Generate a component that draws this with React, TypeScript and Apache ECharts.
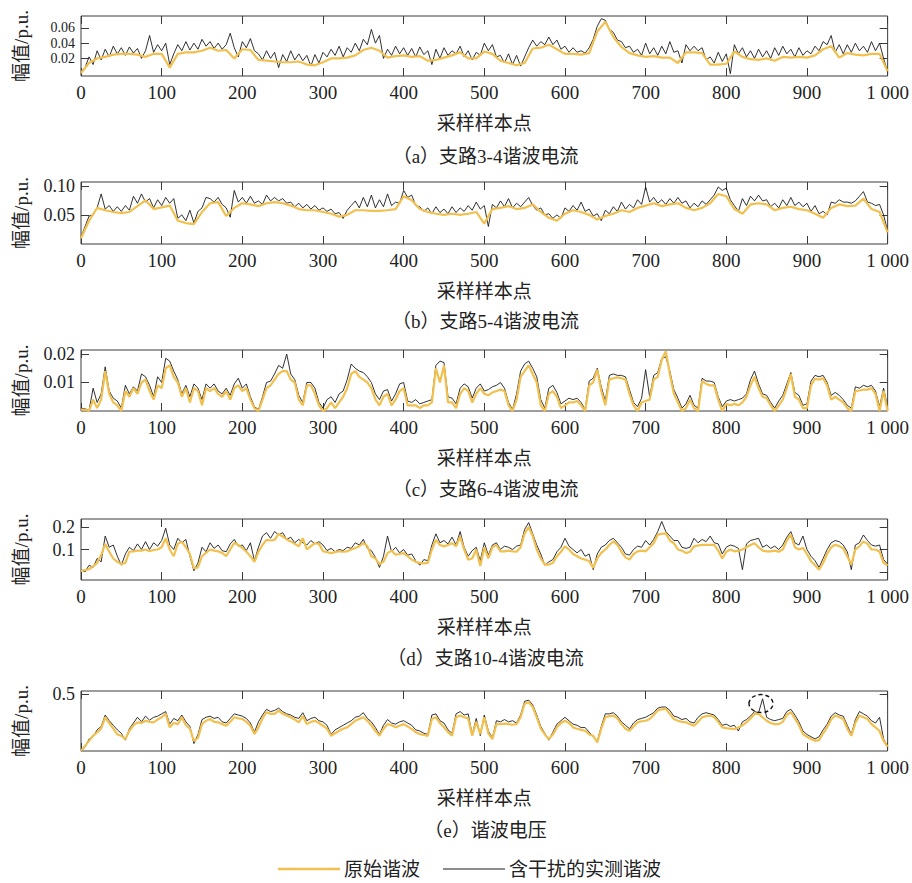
import React, { useEffect, useRef } from "react";
import * as echarts from "echarts";

// ---- data (sample index 0..1000) ----
// Panel (a) branch 3-4 current, units of 1e-3 p.u.
const origA = [
  1, 14, 20, 22, 25, 26, 26, 25, 22, 26,
  26, 8, 26, 28, 28, 30, 34, 30, 31, 20,
  32, 31, 18, 17, 16, 15, 15, 16, 12, 11,
  15, 20, 20, 21, 24, 31, 34, 30, 21, 23,
  24, 22, 23, 17, 18, 21, 24, 28, 20, 20,
  29, 26, 17, 14, 11, 14, 33, 34, 38, 32,
  26, 26, 25, 27, 55, 68, 48, 35, 27, 24,
  22, 23, 21, 21, 14, 28, 28, 27, 12, 12,
  13, 29, 22, 19, 18, 20, 17, 22, 21, 22,
  21, 24, 32, 36, 21, 27, 25, 24, 26, 26,
  3,
];
const measA = [
  2, 8, 22, 12, 30, 18, 32, 22, 36, 26, 34, 24, 35, 27, 33, 20, 30, 50, 28, 38,
  30, 40, 12, 26, 38, 30, 42, 31, 40, 32, 45, 36, 42, 33, 40, 32, 38, 53, 34, 22,
  42, 34, 46, 30, 26, 18, 30, 20, 28, 8, 25, 16, 30, 18, 26, 17, 24, 10, 25, 14,
  28, 22, 32, 24, 36, 22, 34, 28, 40, 30, 45, 38, 58, 40, 50, 20, 32, 24, 36, 26,
  34, 24, 33, 22, 35, 25, 30, 12, 32, 20, 34, 24, 30, 26, 36, 22, 30, 18, 28, 24,
  40, 30, 38, 22, 24, 14, 26, 12, 24, 10, 22, 34, 44, 36, 42, 38, 48, 38, 44, 32,
  36, 28, 34, 28, 30, 27, 34, 45, 62, 72, 70, 58, 54, 44, 42, 34, 36, 28, 32, 24,
  40, 26, 34, 24, 36, 26, 42, 28, 30, 14, 38, 30, 36, 30, 34, 18, 22, 14, 28, 16,
  26, 0, 38, 26, 34, 22, 30, 20, 32, 22, 30, 20, 34, 24, 36, 26, 32, 22, 34, 24,
  30, 26, 36, 30, 42, 38, 50, 28, 38, 26, 38, 28, 40, 30, 36, 28, 42, 30, 40, 20,
  2,
];

// Panel (b) branch 5-4 current, units of 1e-3 p.u.
const origB = [
  10, 40, 62, 58, 55, 53, 55, 65, 75, 60,
  63, 66, 40, 36, 34, 55, 70, 72, 48, 62,
  70, 68, 65, 70, 72, 70, 66, 60, 58, 58,
  55, 52, 47, 50, 58, 58, 57, 57, 58, 60,
  82, 75, 60, 55, 52, 50, 52, 50, 52, 55,
  35, 60, 62, 65, 60, 62, 68, 55, 45, 40,
  52, 58, 55, 50, 42, 48, 52, 58, 55, 62,
  66, 70, 65, 68, 70, 62, 58, 62, 70, 86,
  82, 60, 52, 68, 70, 68, 58, 62, 64, 60,
  58, 52, 45, 62, 68, 65, 66, 78, 60, 55,
  20,
];
const measB = [
  12, 30, 48, 50, 62, 86, 60, 66, 56, 64, 56, 66, 58, 82, 70, 86, 72, 78, 62, 76,
  66, 80, 70, 78, 44, 50, 40, 58, 36, 56, 62, 80, 78, 72, 80, 68, 62, 46, 92, 72,
  80, 70, 82, 70, 74, 68, 84, 74, 80, 74, 78, 70, 72, 64, 70, 62, 68, 60, 66, 58,
  62, 56, 60, 52, 54, 44, 58, 66, 74, 62, 80, 64, 84, 62, 76, 64, 86, 66, 72, 70,
  92, 80, 84, 66, 64, 56, 62, 52, 64, 54, 60, 52, 64, 54, 62, 56, 66, 58, 72, 60,
  66, 30, 68, 62, 74, 64, 78, 62, 70, 64, 72, 80, 66, 58, 62, 50, 52, 44, 50, 44,
  62, 56, 66, 58, 72, 56, 60, 48, 52, 40, 58, 52, 64, 56, 72, 60, 68, 62, 76, 68,
  98, 72, 80, 70, 76, 68, 78, 70, 80, 70, 74, 62, 70, 64, 74, 68, 76, 84, 98, 92,
  96, 76, 66, 56, 78, 66, 82, 74, 84, 74, 76, 64, 70, 62, 76, 66, 80, 66, 72, 64,
  70, 56, 66, 52, 56, 50, 72, 70, 76, 72, 72, 70, 74, 82, 90, 72, 70, 66, 68, 50,
  22,
];

// Panel (c) branch 6-4 current, units of 1e-4 p.u.
const origC = [
  5, 5, 0, 40, 10, 40, 140, 60, 30, 20, 0, 70, 50, 80, 60, 100, 110, 70, 40, 90,
  80, 150, 160, 120, 100, 50, 80, 30, 80, 70, 20, 80, 70, 80, 60, 50, 70, 40, 80, 90,
  70, 80, 40, 10, 0, 40, 80, 90, 110, 130, 140, 140, 110, 100, 40, 20, 90, 90, 60, 20,
  0, 10, 30, 10, 30, 50, 80, 130, 140, 120, 110, 100, 80, 40, 20, 50, 60, 20, 40, 70,
  80, 20, 20, 20, 10, 20, 20, 30, 150, 100, 160, 30, 30, 10, 60, 80, 70, 30, 60, 80,
  60, 55, 65, 70, 75, 70, 20, 0, 40, 120, 140, 160, 130, 100, 20, 0, 60, 70, 50, 10,
  20, 30, 30, 35, 20, 0, 90, 100, 145, 70, 20, 110, 115, 118, 115, 110, 60, 20, 0, 30,
  35, 40, 110, 120, 180, 210, 130, 60, 30, 0, 10, 40, 10, 0, 105, 95, 90, 90, 40, 0,
  25, 20, 25, 20, 30, 50, 90, 120, 80, 50, 45, 20, 0, 20, 40, 80, 130, 50, 40, 10,
  10, 90, 113, 110, 115, 90, 40, 50, 40, 30, 10, 0, 70, 72, 75, 75, 80, 60, 0, 70,
  0,
];
const measC = [
  10, 8, 2, 80, 30, 60, 155, 70, 45, 35, 10, 90, 60, 85, 70, 130, 120, 90, 50, 120,
  100, 185, 175, 140, 110, 60, 90, 50, 95, 80, 40, 95, 80, 95, 70, 60, 80, 55, 95, 115,
  80, 95, 50, 15, 5, 50, 100, 105, 130, 160, 150, 200, 130, 110, 55, 30, 100, 100, 80, 30,
  10, 40, 50, 30, 60, 70, 110, 165, 150, 140, 135, 120, 100, 60, 40, 70, 75, 35, 60, 95,
  100, 35, 30, 40, 25, 30, 35, 40, 160, 175, 170, 50, 45, 25, 80, 95, 85, 45, 80, 95,
  70, 75, 85, 90, 100, 80, 30, 5, 60, 140, 165, 175, 150, 120, 40, 10, 80, 90, 65, 25,
  35, 45, 40, 45, 30, 5, 105, 115, 150, 85, 35, 125, 130, 125, 125, 120, 75, 30, 15, 45,
  145, 50, 125, 135, 185, 190, 140, 75, 45, 10, 25, 55, 20, 10, 115, 105, 105, 100, 50, 15,
  35, 40, 35, 40, 45, 60, 110, 140, 95, 60, 55, 30, 10, 35, 55, 95, 135, 65, 55, 20,
  25, 105, 125, 120, 125, 100, 55, 65, 55, 40, 20, 10, 85, 80, 90, 85, 90, 70, 15, 80,
  15,
];

// Panel (d) branch 10-4 current, units of 1e-3 p.u.
const origD = [
  5, 8, 12, 25, 40, 75, 125, 90, 60, 45, 35, 40, 90, 92, 95, 95, 100, 92, 98, 100,
  110, 150, 100, 70, 125, 135, 110, 80, 15, 20, 70, 85, 100, 95, 92, 85, 70, 100, 130, 120,
  107, 90, 70, 45, 90, 120, 143, 140, 143, 170, 158, 145, 136, 125, 114, 150, 100, 115, 128, 125,
  92, 88, 84, 88, 92, 90, 92, 100, 107, 115, 128, 115, 70, 60, 35, 45, 84, 95, 77, 80,
  84, 70, 55, 45, 40, 38, 40, 100, 143, 120, 114, 120, 128, 114, 158, 100, 55, 60, 100, 26,
  110, 60, 110, 120, 92, 92, 95, 92, 90, 110, 172, 200, 160, 100, 60, 33, 33, 40, 70, 90,
  114, 100, 80, 70, 60, 55, 48, 18, 60, 85, 100, 120, 136, 120, 90, 65, 55, 80, 92, 95,
  92, 110, 128, 166, 170, 172, 140, 128, 100, 95, 84, 90, 114, 118, 121, 121, 121, 121, 95, 60,
  90, 100, 92, 95, 100, 110, 120, 128, 110, 95, 92, 92, 95, 90, 100, 140, 166, 110, 100, 107,
  80, 48, 30, 10, 40, 80, 110, 121, 115, 105, 70, 33, 100, 114, 136, 125, 100, 100, 90, 40,
  30,
];
const measD = [
  10, 0, 30, 20, 60, 45, 160, 110, 120, 70, 30, 80, 110, 95, 125, 100, 135, 100, 130, 115,
  140, 195, 120, 100, 150, 130, 145, 70, 5, 40, 110, 90, 130, 105, 120, 95, 90, 125, 145, 115,
  120, 95, 130, 50, 110, 160, 175, 150, 180, 165, 175, 145, 155, 130, 145, 130, 120, 140, 125, 135,
  120, 95, 105, 90, 100, 95, 110, 105, 130, 120, 145, 105, 95, 65, 20, 70, 160, 90, 110, 85,
  100, 75, 80, 50, 30, 55, 50, 120, 170, 130, 140, 125, 155, 120, 180, 110, 70, 95, 110, 50,
  130, 75, 120, 130, 100, 115, 110, 100, 115, 120, 190, 220, 170, 120, 80, 30, 45, 55, 90, 110,
  150, 115, 100, 85, 100, 70, 80, 10, 80, 110, 120, 140, 150, 130, 110, 80, 75, 100, 115, 110,
  140, 120, 145, 180, 225, 180, 160, 140, 140, 110, 105, 110, 150, 130, 145, 135, 160, 130, 125, 80,
  110, 120, 115, 105, 10, 125, 140, 145, 150, 110, 120, 105, 115, 100, 120, 155, 180, 130, 120, 160,
  100, 70, 50, 20, 60, 100, 130, 140, 135, 120, 90, 10, 120, 130, 165, 140, 120, 115, 120, 55,
  35,
];

// Panel (e) harmonic voltage, units of 1e-3 p.u.
const origE = [
  6, 50, 94, 140, 168, 200, 300, 250, 200, 150, 138, 109, 182, 230, 256, 250, 270, 260, 256, 280,
  300, 330, 212, 250, 240, 300, 230, 200, 94, 120, 240, 270, 285, 260, 256, 240, 226, 260, 300, 290,
  285, 260, 226, 153, 212, 290, 344, 330, 330, 359, 330, 315, 300, 280, 256, 310, 240, 260, 270, 250,
  226, 200, 138, 160, 182, 200, 212, 240, 270, 285, 300, 270, 230, 180, 138, 200, 240, 230, 212, 226,
  240, 220, 197, 170, 153, 145, 138, 285, 300, 250, 212, 170, 138, 300, 315, 300, 290, 138, 260, 153,
  300, 160, 109, 240, 240, 245, 240, 235, 240, 300, 418, 432, 390, 300, 200, 150, 109, 150, 212, 250,
  270, 250, 212, 200, 190, 182, 150, 138, 79, 200, 300, 310, 315, 290, 240, 200, 182, 220, 256, 265,
  270, 285, 320, 359, 370, 374, 330, 285, 270, 260, 256, 240, 226, 260, 300, 310, 315, 300, 260, 212,
  205, 200, 197, 210, 230, 256, 290, 330, 330, 300, 270, 250, 240, 240, 260, 320, 344, 290, 230, 153,
  130, 110, 94, 100, 160, 212, 280, 315, 300, 285, 200, 138, 250, 315, 300, 285, 240, 212, 180, 94,
  41,
];
const measE = [
  0, 40, 110, 130, 190, 220, 320, 270, 230, 190, 160, 100, 200, 250, 300, 260, 310, 275, 300, 310,
  330, 350, 240, 290, 270, 320, 260, 220, 70, 150, 280, 300, 310, 290, 300, 260, 250, 290, 330, 320,
  310, 290, 250, 170, 260, 320, 370, 350, 360, 380, 350, 330, 320, 300, 290, 340, 270, 290, 300, 270,
  260, 230, 150, 190, 210, 230, 250, 270, 300, 310, 340, 290, 260, 210, 150, 230, 280, 250, 240, 260,
  270, 250, 230, 190, 180, 160, 150, 320, 330, 270, 250, 190, 160, 330, 350, 320, 330, 150, 290, 140,
  320, 180, 120, 270, 260, 280, 260, 270, 250, 320, 440, 450, 410, 320, 220, 160, 100, 170, 240, 270,
  300, 270, 240, 230, 210, 210, 170, 130, 90, 220, 330, 330, 340, 310, 260, 230, 200, 250, 280, 290,
  300, 320, 340, 380, 390, 390, 360, 310, 300, 280, 290, 260, 250, 300, 330, 340, 330, 320, 280, 230,
  240, 220, 230, 180, 260, 280, 310, 350, 340, 462, 300, 280, 270, 280, 290, 350, 370, 320, 260, 180,
  150, 130, 110, 130, 190, 240, 310, 340, 320, 310, 230, 150, 280, 350, 330, 310, 270, 250, 300, 110,
  40,
];

const units = [0.001, 0.001, 0.0001, 0.001, 0.001];
const yRanges = [
  [-0.003, 0.0755],
  [0.0, 0.1065],
  [0.0, 0.0214],
  [-0.036, 0.236],
  [0.005, 0.53],
];
const yTickValuesLeft = [
  [0.02, 0.04, 0.06],
  [0.05, 0.1],
  [0.01, 0.02],
  [0.1, 0.2],
  [0.5],
];
const yTickValuesRight = [
  [0.02, 0.04, 0.06],
  [0.05, 0.1],
  [0.01, 0.02],
  [0, 0.1, 0.2],
  [0.5],
];
// y tick labels; the second list holds labels drawn by an extra label-only axis
const yLabelValues = [
  [0.02, 0.06],
  [0.05, 0.1],
  [0.01, 0.02],
  [0.1, 0.2],
  [0.5],
];
const yLabelValuesExtra = [[0.04], [], [], [], []];
const yDecimals = [2, 2, 2, 1, 1];
const captions = [
  "（a）支路3-4谐波电流",
  "（b）支路5-4谐波电流",
  "（c）支路6-4谐波电流",
  "（d）支路10-4谐波电流",
  "（e）谐波电压",
];
const origSeries = [origA, origB, origC, origD, origE];
const measSeries = [measA, measB, measC, measD, measE];
const seriesNames = ["原始谐波", "含干扰的实测谐波"];
const xName = "采样样本点";
const yName = "幅值/p.u.";
const marked = [843, 0.42]; // circled disturbance in panel (e)

// ---- layout ----
const gridTops = [16, 182, 350, 519, 691];
const gridHeights = [60, 62, 61, 61, 60];
const captionYs = [156, 321, 489, 658, 830];
const yLabelSizes = [14, 18, 18, 18, 18];
const LEFT = 81;
const RIGHT_EDGE = 890;
const W = 912;
const H = 883;
const SERIF = "'Liberation Serif', 'Noto Sans CJK SC', serif";
const TXT = "#222";
const AX = "#3a3a3a";
const YELLOW = "#F1C04E";
const BLACK = "#1b1b1b";
const LEGEND_Y = 869;

function toPairs(arr: number[], unit: number) {
  const step = 1000 / (arr.length - 1);
  return arr.map((v, i) => [i * step, v * unit]);
}

export default function App() {
  const ref = useRef<HTMLDivElement>(null);
  useEffect(() => {
    document.body.style.margin = "0";
    if (!ref.current) return;
    const chart = echarts.init(ref.current, undefined, { renderer: "svg" });

    const grids: any[] = [];
    const xAxes: any[] = [];
    const yAxes: any[] = [];
    const series: any[] = [];

    for (let i = 0; i < 5; i++) {
      grids.push({
        left: LEFT,
        width: RIGHT_EDGE - LEFT,
        top: gridTops[i],
        height: gridHeights[i],
        show: true,
        borderColor: AX,
        borderWidth: 1,
        backgroundColor: "transparent",
      });
      const tickCommon = { show: true, inside: true, length: 8, lineStyle: { color: AX, width: 1 } };
      xAxes.push({
        type: "value",
        gridIndex: i,
        position: "bottom",
        min: 0,
        max: 1000,
        interval: 100,
        axisLine: { show: false, onZero: false },
        splitLine: { show: false },
        axisTick: tickCommon,
        axisLabel: {
          margin: 7,
          color: TXT,
          fontFamily: SERIF,
          fontSize: 19,
          hideOverlap: false,
          formatter: (v: number) => (v === 1000 ? "1 000" : String(v)),
        },
        name: xName,
        nameLocation: "middle",
        nameGap: 38,
        nameTextStyle: { color: TXT, fontFamily: SERIF, fontSize: 19 },
      });
      xAxes.push({
        type: "value",
        gridIndex: i,
        position: "top",
        min: 0,
        max: 1000,
        interval: 100,
        axisLine: { show: false, onZero: false },
        splitLine: { show: false },
        axisTick: tickCommon,
        axisLabel: { show: false },
      });
      const dec = yDecimals[i];
      const labelStyle = {
        margin: 6,
        color: TXT,
        fontFamily: SERIF,
        fontSize: yLabelSizes[i],
        lineHeight: yLabelSizes[i],
        hideOverlap: false,
        formatter: (v: number) => v.toFixed(dec),
      };
      yAxes.push({
        type: "value",
        gridIndex: i,
        position: "left",
        min: yRanges[i][0],
        max: yRanges[i][1],
        axisLine: { show: false, onZero: false },
        splitLine: { show: false },
        axisTick: { ...tickCommon, customValues: yTickValuesLeft[i] },
        axisLabel: { ...labelStyle, customValues: yLabelValues[i] },
        name: yName,
        nameLocation: "middle",
        nameRotate: 90,
        nameGap: 50,
        nameTextStyle: { color: TXT, fontFamily: SERIF, fontSize: 19 },
      });
      yAxes.push({
        type: "value",
        gridIndex: i,
        position: "right",
        min: yRanges[i][0],
        max: yRanges[i][1],
        axisLine: { show: false, onZero: false },
        splitLine: { show: false },
        axisTick: { ...tickCommon, customValues: yTickValuesRight[i] },
        axisLabel: { show: false },
      });

      series.push({
        type: "line",
        name: seriesNames[1],
        xAxisIndex: 2 * i,
        yAxisIndex: 2 * i,
        data: toPairs(measSeries[i], units[i]),
        symbol: "none",
        showSymbol: false,
        lineStyle: { color: BLACK, width: 0.9 },
        itemStyle: { color: BLACK },
        z: 2,
        silent: true,
      });
      series.push({
        type: "line",
        name: seriesNames[0],
        xAxisIndex: 2 * i,
        yAxisIndex: 2 * i,
        data: toPairs(origSeries[i], units[i]),
        symbol: "none",
        showSymbol: false,
        lineStyle: { color: YELLOW, width: 2.2 },
        itemStyle: { color: YELLOW },
        z: 3,
        silent: true,
      });
    }
    // extra label-only left axes (appended after the 10 regular y axes)
    for (let i = 0; i < 5; i++) {
      if (!yLabelValuesExtra[i].length) continue;
      const dec = yDecimals[i];
      yAxes.push({
        type: "value",
        gridIndex: i,
        position: "left",
        min: yRanges[i][0],
        max: yRanges[i][1],
        axisLine: { show: false, onZero: false },
        splitLine: { show: false },
        axisTick: { show: false },
        axisLabel: {
          customValues: yLabelValuesExtra[i],
          margin: 6,
          color: TXT,
          fontFamily: SERIF,
          fontSize: yLabelSizes[i],
          lineHeight: yLabelSizes[i],
          hideOverlap: false,
          formatter: (v: number) => v.toFixed(dec),
        },
      });
    }

    chart.setOption({
      animation: false,
      backgroundColor: "#ffffff",
      grid: grids,
      xAxis: xAxes,
      yAxis: yAxes,
      series,
    });

    const [ex, ey] = chart.convertToPixel({ xAxisIndex: 8, yAxisIndex: 8 }, marked) as number[];
    const graphics: any[] = captions.map((c, i) => ({
      type: "text",
      x: (LEFT + RIGHT_EDGE) / 2,
      y: captionYs[i],
      style: {
        text: c,
        fill: TXT,
        font: `19px ${SERIF}`,
        align: "center",
        verticalAlign: "middle",
      },
    }));
    graphics.push({
      type: "ellipse",
      shape: { cx: ex, cy: ey, rx: 12, ry: 9 },
      style: { fill: "none", stroke: "#111", lineWidth: 1.4, lineDash: [4, 3] },
      z: 10,
    });
    // legend
    graphics.push(
      {
        type: "line",
        shape: { x1: 278, y1: LEGEND_Y, x2: 340, y2: LEGEND_Y },
        style: { stroke: YELLOW, lineWidth: 2.6 },
      },
      {
        type: "text",
        x: 344,
        y: LEGEND_Y,
        style: { text: seriesNames[0], fill: TXT, font: `19px ${SERIF}`, align: "left", verticalAlign: "middle" },
      },
      {
        type: "line",
        shape: { x1: 443, y1: LEGEND_Y, x2: 505, y2: LEGEND_Y },
        style: { stroke: BLACK, lineWidth: 1 },
      },
      {
        type: "text",
        x: 509,
        y: LEGEND_Y,
        style: { text: seriesNames[1], fill: TXT, font: `19px ${SERIF}`, align: "left", verticalAlign: "middle" },
      }
    );
    chart.setOption({ graphic: graphics });

    return () => chart.dispose();
  }, []);
  return <div ref={ref} style={{ width: W, height: H }} />;
}
